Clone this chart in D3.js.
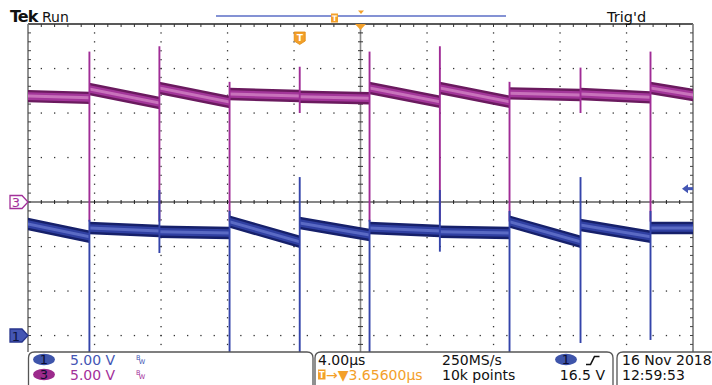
<!DOCTYPE html>
<html>
<head>
<meta charset="utf-8">
<script src="https://cdn.jsdelivr.net/npm/d3@7"></script>
<style>
  body { margin: 0; background: #fff; }
  svg { display: block; }
  text { font-family: "DejaVu Sans", sans-serif; }
</style>
</head>
<body>
<svg id="scope" width="712" height="385"></svg>
<script>
// Acquisition settings
const timePerDiv = 4.0;        // µs / div
const triggerDelay = 3.656;    // µs, trigger to screen centre
const voltsPerDiv = 5.0;       // both channels
const ch1Position = -3;        // divisions
const ch3Position = 0;         // divisions
const triggerLevel = 16.5;     // V on ch1

// Switching edges (µs relative to trigger)
const edgeTimes = [-12.65, -8.44, -4.22, 0, 4.20, 8.43, 12.62, 16.89, 21.10];

// Ch3: level at start / end of each segment between edges (V)
const ch3SegStart = [11.90, 12.70, 12.81, 12.13, 11.83, 12.81, 12.81, 12.21, 12.13, 12.81];
const ch3SegEnd   = [11.70, 11.12, 11.24, 11.91, 11.65, 11.27, 11.27, 12.02, 11.76, 12.02];
const ch3SpikeHigh = [16.9, 17.5, 13.5, 15.2, 16.9, 17.5, 13.5, 15.1, 16.9];
const ch3SpikeLow  = [-2.2, -2.2, -2.2, 10.0, -2.2, -2.2, -2.2, 10.0, -2.2];

// Ch1
const ch1SegStart = [12.53, 12.08, 11.66, 12.79, 12.64, 12.08, 11.66, 12.79, 12.42, 12.08];
const ch1SegEnd   = [11.10, 11.74, 11.52, 10.54, 11.29, 11.74, 11.52, 10.54, 11.10, 12.08];
const ch1SpikeHigh = [13.0, 16.35, 14.0, 17.8, 13.0, 16.35, 14.0, 17.8, 14.0];
const ch1SpikeLow  = [-2.0, 9.27, -2.0, -2.0, -2.0, 9.42, -2.0, -0.84, -0.5];

// Readout text
const ch1Scale = "5.00 V", ch3Scale = "5.00 V";
const timeScaleLabel = "4.00µs", delayLabel = "→▼3.65600µs";
const sampleRate = "250MS/s", recordLength = "10k points";
const trigLevelLabel = "16.5 V";
const dateLabel = "16 Nov 2018", timeLabel = "12:59:53";

// ---------------------------------------------------------------
const svg = d3.select("#scope");
const L = 28, R = 693, T = 24, B = 380, visBottom = 352;
const hDivs = 10, vDivs = 8;

const x = d3.scaleLinear()
  .domain([triggerDelay - timePerDiv * hDivs / 2, triggerDelay + timePerDiv * hDivs / 2])
  .range([L, R]);
const yFor = pos => d3.scaleLinear()
  .domain([(-vDivs / 2 - pos) * voltsPerDiv, (vDivs / 2 - pos) * voltsPerDiv])
  .range([B, T]);
const y1 = yFor(ch1Position), y3 = yFor(ch3Position);

const divW = (R - L) / hDivs, divH = (B - T) / vDivs;
const cx = x(triggerDelay), cy = T + divH * vDivs / 2;

svg.append("defs").append("clipPath").attr("id", "plot")
  .append("rect").attr("x", L).attr("y", T).attr("width", R - L).attr("height", visBottom - T);

// ---------- graticule ----------
const g = svg.append("g");
const dot = (px, py) => g.append("rect").attr("x", px - 0.6).attr("y", py - 0.6)
  .attr("width", 1.3).attr("height", 1.3).attr("fill", "#333");

for (let i = 1; i < hDivs; i++) {
  if (i === hDivs / 2) continue;
  const gx = L + i * divW;
  for (let k = 1; T + k * divH / 5 < visBottom; k++) dot(gx, T + k * divH / 5);
}
for (let j = 1; j < vDivs; j++) {
  if (j === vDivs / 2) continue;
  const gy = T + j * divH;
  for (let k = 1; k < hDivs * 5; k++) dot(L + k * divW / 5, gy);
}
// centre cross
g.append("line").attr("x1", L).attr("x2", R).attr("y1", cy).attr("y2", cy)
  .attr("stroke", "#111").attr("stroke-width", 1.2);
for (let k = 1; k < hDivs * 5; k++) {
  const tx = L + k * divW / 5;
  g.append("line").attr("x1", tx).attr("x2", tx).attr("y1", cy - 2).attr("y2", cy + 2)
    .attr("stroke", "#222").attr("stroke-width", 1);
}
g.append("line").attr("x1", cx).attr("x2", cx).attr("y1", T).attr("y2", visBottom)
  .attr("stroke", "#888").attr("stroke-width", 1.6);
for (let k = 1; T + k * divH / 5 < visBottom; k++) {
  const ty = T + k * divH / 5;
  g.append("line").attr("x1", cx - 2.5).attr("x2", cx + 2.5).attr("y1", ty).attr("y2", ty)
    .attr("stroke", "#333").attr("stroke-width", 1);
}
// frame
g.append("line").attr("x1", L).attr("x2", R).attr("y1", T).attr("y2", T)
  .attr("stroke", "#222").attr("stroke-width", 1.5);
for (let k = 1; k < hDivs * 5; k++) {
  const tx = L + k * divW / 5;
  g.append("line").attr("x1", tx).attr("x2", tx).attr("y1", T).attr("y2", T + 3)
    .attr("stroke", "#333").attr("stroke-width", 1);
}
[L, R].forEach((fx, side) => {
  g.append("line").attr("x1", fx).attr("x2", fx).attr("y1", T).attr("y2", visBottom)
    .attr("stroke", "#777").attr("stroke-width", 1.6);
  const dir = side === 0 ? 1 : -1;
  for (let k = 1; T + k * divH / 5 < visBottom; k++) {
    const ty = T + k * divH / 5;
    g.append("line").attr("x1", fx).attr("x2", fx + dir * 3).attr("y1", ty).attr("y2", ty)
      .attr("stroke", "#444").attr("stroke-width", 1);
  }
});

// ---------- waveforms ----------
function segments(starts, ends) {
  const pts = [];
  const [t0, t1] = x.domain();
  for (let k = 0; k < starts.length; k++) {
    const a = k === 0 ? t0 : edgeTimes[k - 1];
    const b = k === starts.length - 1 ? t1 : edgeTimes[k];
    pts.push({ t: a, v: starts[k] }, { t: b, v: ends[k] });
  }
  return pts;
}

function drawChannel(starts, ends, hi, lo, y, colors) {
  const wg = svg.append("g").attr("clip-path", "url(#plot)");
  const pts = segments(starts, ends);
  [[6.2, colors[0]], [3.8, colors[1]], [1.5, colors[2]]].forEach(([hw, c]) => {
    wg.append("path").datum(pts)
      .attr("d", d3.area().x(d => x(d.t)).y0(d => y(d.v) + hw).y1(d => y(d.v) - hw))
      .attr("fill", c);
  });
  wg.selectAll("line.spike").data(edgeTimes).join("line").attr("class", "spike")
    .attr("x1", d => x(d)).attr("x2", d => x(d))
    .attr("y1", (d, i) => y(hi[i])).attr("y2", (d, i) => y(lo[i]))
    .attr("stroke", colors[3]).attr("stroke-width", 1.9);
}

drawChannel(ch3SegStart, ch3SegEnd, ch3SpikeHigh, ch3SpikeLow, y3,
  ["#6a1a5e", "#a3369a", "#c872bb", "#a02c96"]);
drawChannel(ch1SegStart, ch1SegEnd, ch1SpikeHigh, ch1SpikeLow, y1,
  ["#16206a", "#3040a2", "#5a6ac4", "#3444aa"]);

// ---------- markers ----------
const orange = "#f3a02a";
const blue = "#4456b4", magenta = "#a3309a";

// channel ground markers
function groundMarker(yy, label, fill, stroke, txt) {
  svg.append("path")
    .attr("d", `M10,${yy - 6.5} H22 L28,${yy} L22,${yy + 6.5} H10 Z`)
    .attr("fill", fill).attr("stroke", stroke).attr("stroke-width", 1.3);
  svg.append("text").attr("x", 16).attr("y", yy + 5).attr("text-anchor", "middle")
    .attr("font-size", 13).attr("fill", txt).text(label);
}
groundMarker(y3(0), "3", "#fff", magenta, magenta);
groundMarker(y1(0), "1", blue, "#27358c", "#0d1440");

// trigger level arrow
const ty = y1(triggerLevel);
svg.append("path").attr("d", `M682,${ty} L688,${ty - 4.5} L688,${ty + 4.5} Z`).attr("fill", blue);
svg.append("rect").attr("x", 687).attr("y", ty - 1.5).attr("width", 6).attr("height", 3).attr("fill", blue);

// trigger position marker
const tx0 = x(0);
svg.append("path")
  .attr("d", `M${tx0 - 5.5},32 h11 v9 l-5.5,3.5 l-5.5,-3.5 Z`)
  .attr("fill", orange).attr("stroke", "#e08a10").attr("stroke-width", 0.8);
svg.append("text").attr("x", tx0).attr("y", 40.5).attr("text-anchor", "middle")
  .attr("font-size", 9).attr("font-weight", "bold").attr("fill", "#fff").text("T");

// expansion point marker
svg.append("path").attr("d", `M${cx - 5.5},${T} L${cx + 5.5},${T} L${cx},${T + 6} Z`).attr("fill", orange);

// record overview bar (whole record spans the bar)
const barX = d3.scaleLinear().domain(x.domain()).range([216, 506]);
svg.append("line").attr("x1", barX.range()[0]).attr("x2", barX.range()[1]).attr("y1", 16).attr("y2", 16)
  .attr("stroke", "#5b6ec6").attr("stroke-width", 1.3);
const barT = barX(0);
svg.append("rect").attr("x", barT - 3.5).attr("y", 13.5).attr("width", 7).attr("height", 9)
  .attr("fill", orange);
svg.append("text").attr("x", barT).attr("y", 21).attr("text-anchor", "middle")
  .attr("font-size", 7.5).attr("font-weight", "bold").attr("fill", "#fff").text("T");
const barC = barX(triggerDelay);
svg.append("path").attr("d", `M${barC - 3},10.5 L${barC + 3},10.5 L${barC},14 Z`).attr("fill", orange);

// header
svg.append("text").attr("x", 10).attr("y", 22).attr("font-family", "Liberation Serif, serif")
  .attr("font-weight", "bold").attr("font-size", 16).attr("letter-spacing", -1)
  .attr("fill", "#111").text("Tek");
svg.append("text").attr("x", 42).attr("y", 21.5).attr("font-size", 14).attr("fill", "#111").text("Run");
svg.append("text").attr("x", 607).attr("y", 21.5).attr("font-size", 14.5).attr("fill", "#111").text("Trig'd");

// ---------- readout panels ----------
function panel(x0, x1) {
  const r = 6, y0 = 352;
  svg.append("path")
    .attr("d", `M${x0},400 V${y0 + r} Q${x0},${y0} ${x0 + r},${y0} H${x1 - r} Q${x1},${y0} ${x1},${y0 + r} V400`)
    .attr("fill", "#fff").attr("stroke", "#555").attr("stroke-width", 1.3);
}
panel(28.5, 313);
panel(315, 613);
panel(617, 730);

const row1 = 364.5, row2 = 379.5;
function chBadge(cxp, cyp, label, fill) {
  svg.append("ellipse").attr("cx", cxp).attr("cy", cyp).attr("rx", 11).attr("ry", 5.8).attr("fill", fill);
  svg.append("text").attr("x", cxp).attr("y", cyp + 4.5).attr("text-anchor", "middle")
    .attr("font-size", 13).attr("fill", "#0c0c30").text(label);
}
function bw(xp, yp, c) {
  const t = svg.append("text").attr("x", xp).attr("y", yp - 5).attr("font-size", 6.5).attr("fill", c);
  t.append("tspan").text("B");
  t.append("tspan").attr("dx", -1.5).attr("dy", 4).text("W");
}
chBadge(44, 359.5, "1", "#3e54aa");
svg.append("text").attr("x", 70).attr("y", row1).attr("font-size", 14).attr("fill", blue).text(ch1Scale);
bw(136, row1, blue);
chBadge(44, 374.5, "3", "#9c2a8c");
svg.append("text").attr("x", 70).attr("y", row2).attr("font-size", 14).attr("fill", magenta).text(ch3Scale);
bw(136, row2, magenta);

svg.append("text").attr("x", 318).attr("y", row1).attr("font-size", 14).attr("fill", "#111").text(timeScaleLabel);
svg.append("rect").attr("x", 318).attr("y", 369.5).attr("width", 7.5).attr("height", 10).attr("fill", orange);
svg.append("text").attr("x", 321.8).attr("y", 378).attr("text-anchor", "middle")
  .attr("font-size", 8).attr("font-weight", "bold").attr("fill", "#fff").text("T");
svg.append("text").attr("x", 326).attr("y", row2).attr("font-size", 14).attr("fill", orange).text(delayLabel);
svg.append("text").attr("x", 442).attr("y", row1).attr("font-size", 14).attr("fill", "#111").text(sampleRate);
svg.append("text").attr("x", 442).attr("y", row2).attr("font-size", 14).attr("fill", "#111").text(recordLength);
chBadge(566, 359.5, "1", "#3e54aa");
svg.append("path").attr("d", "M586,364.5 H590.5 L594.5,356.5 H599.5")
  .attr("fill", "none").attr("stroke", "#111").attr("stroke-width", 1.6);
svg.append("text").attr("x", 605).attr("y", row2).attr("text-anchor", "end")
  .attr("font-size", 14).attr("fill", "#111").text(trigLevelLabel);

svg.append("text").attr("x", 622).attr("y", row1).attr("font-size", 14).attr("fill", "#111").text(dateLabel);
svg.append("text").attr("x", 622).attr("y", row2).attr("font-size", 14).attr("fill", "#111").text(timeLabel);
</script>
</body>
</html>
